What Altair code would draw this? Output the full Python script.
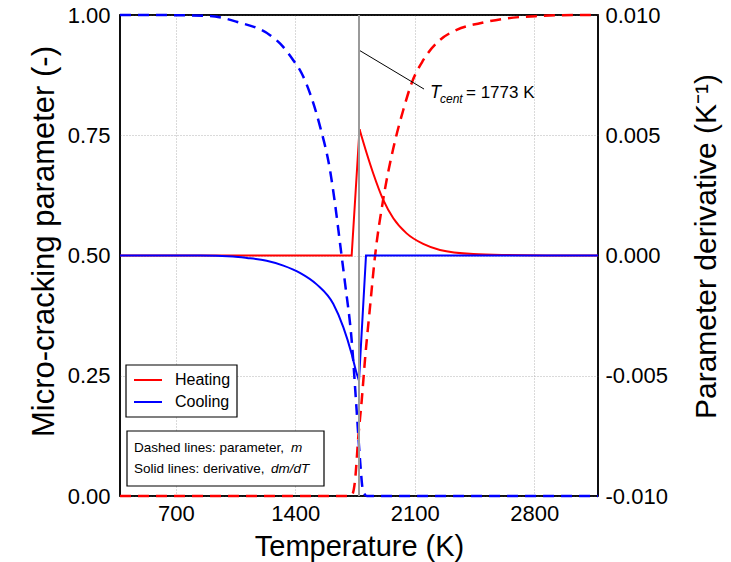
import altair as alt
import pandas as pd

FONT = "Liberation Sans"
T_MIN, T_MAX = 373, 3173
T_CENT = 1773

# ---- data ----
# Heating parameter m (red dashed, left axis)
heat_m_T = [373, 1720, 1732, 1750, 1769, 1789, 1808, 1837, 1867, 1915, 1974, 2032,
            2082, 2149, 2247, 2345, 2482, 2638, 2833, 3027, 3173]
heat_m = [0.0, 0.0, 0.002, 0.033, 0.123, 0.199, 0.283, 0.391, 0.499, 0.617, 0.723, 0.802,
          0.859, 0.906, 0.948, 0.969, 0.983, 0.993, 0.998, 1.0, 1.0]

# Cooling parameter m (blue dashed, left axis)
cool_m_T = [373, 549, 724, 900, 1056, 1252, 1310, 1388, 1437, 1486, 1545, 1603, 1632,
            1662, 1691, 1730, 1759, 1779, 1796, 1818, 3173]
cool_m = [1.0, 1.0, 0.9995, 0.998, 0.986, 0.958, 0.941, 0.906, 0.879, 0.837, 0.768, 0.678,
          0.609, 0.525, 0.443, 0.324, 0.179, 0.075, 0.012, 0.0, 0.0]

# Heating derivative dm/dT (red solid, right axis)
heat_d_rise_T = [373, 1730, 1776]
heat_d_rise = [0.0, 0.0, 0.00525]
heat_d_decay_T = [1776, 1818, 1856, 1915, 1974, 2052, 2149, 2247, 2443, 2638, 2950, 3173]
heat_d_decay = [0.00525, 0.00425, 0.00342, 0.00231, 0.00155, 0.00092, 0.00048, 0.00023,
                0.00006, 0.00002, 0.0, 0.0]

# Cooling derivative dm/dT (blue solid, right axis)
cool_d_fall_T = [373, 842, 1035, 1117, 1232, 1330, 1427, 1525, 1622, 1681, 1730, 1760, 1773]
cool_d_fall = [0.0, 0.0, -0.00004, -0.0001, -0.00022, -0.00042, -0.00072, -0.0012,
               -0.00201, -0.00298, -0.00409, -0.00492, -0.0052]
cool_d_rise_T = [1773, 1814, 3173]
cool_d_rise = [-0.0052, 0.0, 0.0]

# annotation
leader_T = [1773, 2154]
leader_v = [0.927, 0.846]
label_T = [2189]
label_v = [0.827]

x_ticks = [700, 1400, 2100, 2800]
left_ticks = [0, 0.25, 0.5, 0.75, 1.0]
right_ticks = [-0.01, -0.005, 0.0, 0.005, 0.01]

legend_labels = ["Heating", "Cooling"]
legend_colors = ["#ff0000", "#0000ff"]
RED, BLUE = legend_colors

W, H = 478, 481


def frame(T, v):
    return pd.DataFrame({"T": T, "v": v})


grid_style = dict(grid=True, gridDash=[1, 2], gridColor="#b5b5b5", gridWidth=1)

x_enc = alt.X(
    "T:Q",
    scale=alt.Scale(domain=[T_MIN, T_MAX], nice=False, zero=False),
    axis=alt.Axis(
        values=x_ticks, format="d", title="Temperature (K)",
        labelFontSize=22, labelPadding=7, labelColor="black", labelFont=FONT,
        titleFontSize=29, titleFontWeight="normal", titleColor="black", titleFont=FONT,
        titleX=239, titleY=59, titleBaseline="alphabetic",
        ticks=False, tickSize=0, domain=False, **grid_style,
    ),
)

y_left = alt.Y(
    "v:Q",
    scale=alt.Scale(domain=[0, 1], nice=False, zero=False),
    axis=alt.Axis(
        orient="left", values=left_ticks, format=".2f",
        title="Micro-cracking parameter (-)",
        labelFontSize=22, labelPadding=10, labelColor="black", labelFont=FONT,
        titleFontSize=31, titleFontWeight="normal", titleColor="black", titleFont=FONT,
        titleAngle=270, titleX=-67, titleY=226, titleBaseline="alphabetic",
        ticks=False, tickSize=0, domain=False, **grid_style,
    ),
)

y_right = alt.Y(
    "v:Q",
    scale=alt.Scale(domain=[-0.01, 0.01], nice=False, zero=False),
    axis=alt.Axis(
        orient="right", values=right_ticks,
        labelExpr="replace(format(datum.value, '.3f'), '\u2212', '-')",
        title="Parameter derivative (K\u207b\u00b9)",
        labelFontSize=22, labelPadding=7, labelColor="black", labelFont=FONT,
        titleFontSize=30, titleFontWeight="normal", titleColor="black", titleFont=FONT,
        titleAngle=270, titleX=117, titleY=231, titleBaseline="alphabetic",
        ticks=False, tickSize=0, domain=False, grid=False,
    ),
)

DASH = [11, 7]

one = pd.DataFrame({"k": [0]})

# plot frame above the grid, below the curves
plot_frame = alt.Chart(one).mark_rect(
    fillOpacity=0, stroke="black", strokeWidth=1.5
).encode(x=alt.value(0), x2=alt.value(W), y=alt.value(0), y2=alt.value(H))

m_heat = alt.Chart(frame(heat_m_T, heat_m)).mark_line(
    color=RED, strokeWidth=2.5, strokeDash=DASH, interpolate="monotone"
).encode(x=x_enc, y=y_left)

m_cool = alt.Chart(frame(cool_m_T, cool_m)).mark_line(
    color=BLUE, strokeWidth=2.5, strokeDash=DASH, interpolate="monotone"
).encode(x=x_enc, y=y_left)

leader = alt.Chart(frame(leader_T, leader_v)).mark_line(
    color="black", strokeWidth=1
).encode(x=x_enc, y=y_left)

lab_df = frame(label_T, label_v)
txt_T = alt.Chart(lab_df).mark_text(
    text="T", font=FONT, fontSize=18, fontStyle="italic", align="left",
    baseline="alphabetic", color="black"
).encode(x=x_enc, y=y_left)
txt_sub = alt.Chart(lab_df).mark_text(
    text="cent", font=FONT, fontSize=12, fontStyle="italic", align="left",
    baseline="alphabetic", dx=10, dy=5, color="black"
).encode(x=x_enc, y=y_left)
txt_rest = alt.Chart(lab_df).mark_text(
    text="= 1773 K", font=FONT, fontSize=17, align="left",
    baseline="alphabetic", dx=36, color="black"
).encode(x=x_enc, y=y_left)

leg_box = alt.Chart(one).mark_rect(
    fill="white", stroke="black", strokeWidth=1.2
).encode(x=alt.value(6), x2=alt.value(117), y=alt.value(350), y2=alt.value(402))
leg_lines = [
    alt.Chart(one).mark_rule(color=c, strokeWidth=2).encode(
        x=alt.value(14), x2=alt.value(42), y=alt.value(yy))
    for c, yy in zip(legend_colors, [365, 387])
]
leg_texts = [
    alt.Chart(one).mark_text(
        text=t, font=FONT, fontSize=16, align="left", baseline="middle", color="black"
    ).encode(x=alt.value(55), y=alt.value(yy))
    for t, yy in zip(legend_labels, [365, 387])
]

note_box = alt.Chart(one).mark_rect(
    fill="white", stroke="black", strokeWidth=1.2
).encode(x=alt.value(7), x2=alt.value(204), y=alt.value(416), y2=alt.value(471))
note_parts = [
    ("Dashed lines: parameter, ", 14, 437, "normal"),
    ("m", 171, 437, "italic"),
    ("Solid lines: derivative, ", 14, 458, "normal"),
    ("dm/dT", 151, 458, "italic"),
]
note_texts = [
    alt.Chart(one).mark_text(
        text=t, font=FONT, fontSize=13.5, fontStyle=s, align="left",
        baseline="alphabetic", color="black"
    ).encode(x=alt.value(xx), y=alt.value(yy))
    for t, xx, yy, s in note_parts
]

left = alt.layer(
    plot_frame, m_heat, m_cool, leader, txt_T, txt_sub, txt_rest,
    leg_box, *leg_lines, *leg_texts, note_box, *note_texts
)

d_heat_rise = alt.Chart(frame(heat_d_rise_T, heat_d_rise)).mark_line(
    color=RED, strokeWidth=2
).encode(x=x_enc, y=y_right)
d_heat_decay = alt.Chart(frame(heat_d_decay_T, heat_d_decay)).mark_line(
    color=RED, strokeWidth=2, interpolate="monotone"
).encode(x=x_enc, y=y_right)
d_cool_fall = alt.Chart(frame(cool_d_fall_T, cool_d_fall)).mark_line(
    color=BLUE, strokeWidth=2, interpolate="monotone"
).encode(x=x_enc, y=y_right)
d_cool_rise = alt.Chart(frame(cool_d_rise_T, cool_d_rise)).mark_line(
    color=BLUE, strokeWidth=2
).encode(x=x_enc, y=y_right)

vrule = alt.Chart(pd.DataFrame({"T": [T_CENT]})).mark_rule(
    color="#9a9a9a", strokeWidth=2
).encode(x=x_enc)

right = alt.layer(d_heat_rise, d_heat_decay, d_cool_fall, d_cool_rise, vrule)

chart = (
    alt.layer(left, right)
    .resolve_scale(y="independent")
    .properties(
        width=W,
        height=H,
        autosize=alt.AutoSizeParams(type="none"),
        padding={"left": 120, "top": 15, "right": 133, "bottom": 66},
        background="white",
    )
    .configure(font=FONT)
    .configure_view(stroke="black", strokeWidth=1.5)
)

chart.save("out.html", embed_options={"renderer": "svg", "actions": False})
